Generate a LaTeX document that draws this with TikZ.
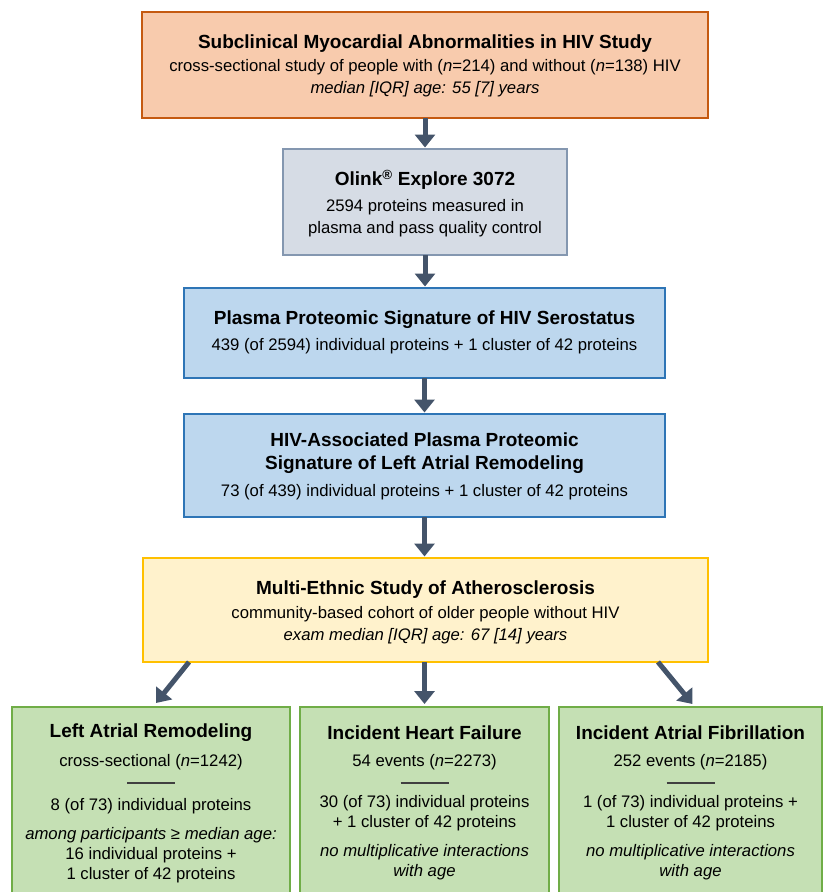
\documentclass[tikz,border=0pt]{standalone}
\usepackage{fontspec}
\setmainfont{Liberation Sans}
\usetikzlibrary{arrows.meta}
\definecolor{topfill}{HTML}{F8CBAD}
\definecolor{topdraw}{HTML}{C55A11}
\definecolor{olfill}{HTML}{D6DCE5}
\definecolor{oldraw}{HTML}{8497B0}
\definecolor{blfill}{HTML}{BDD7EE}
\definecolor{bldraw}{HTML}{2E75B6}
\definecolor{yefill}{HTML}{FFF2CC}
\definecolor{yedraw}{HTML}{FFC000}
\definecolor{grfill}{HTML}{C5E0B4}
\definecolor{grdraw}{HTML}{70AD47}
\definecolor{arrowc}{HTML}{44546A}
\definecolor{rulec}{HTML}{404040}
\begin{document}
\begin{tikzpicture}[x=1pt,y=-1pt,
  box/.style={draw, line width=1.2pt, inner sep=0pt, outer sep=0pt},
  txt/.style={align=center, inner sep=0pt, font=\fontsize{16.7}{22}\selectfont},
  ttl/.style={align=center, inner sep=0pt, font=\fontsize{19}{23}\selectfont\bfseries},
  flow/.style={draw=arrowc, line width=5pt, -{Triangle[width=20pt,length=13pt]}},
  sep/.style={draw=rulec, line width=1.6pt}]
\useasboundingbox (0,0) rectangle (824,892);
\clip (0,0) rectangle (824,892);

% boxes
\node[box, fill=topfill, draw=topdraw, minimum width=566pt, minimum height=106pt] (top) at (425,65) {};
\node[box, fill=olfill, draw=oldraw, minimum width=284pt, minimum height=106pt] (olink) at (425,202) {};
\node[box, fill=blfill, draw=bldraw, minimum width=481pt, minimum height=90pt] (plasma) at (424.5,333) {};
\node[box, fill=blfill, draw=bldraw, minimum width=481pt, minimum height=103pt] (hivla) at (424.5,465.5) {};
\node[box, fill=yefill, draw=yedraw, minimum width=565pt, minimum height=104pt] (mesa) at (425.5,610) {};
\node[box, fill=grfill, draw=grdraw, minimum width=278pt, minimum height=210pt] (lar) at (151,812) {};
\node[box, fill=grfill, draw=grdraw, minimum width=249pt, minimum height=210pt] (ihf) at (424.5,812) {};
\node[box, fill=grfill, draw=grdraw, minimum width=263pt, minimum height=210pt] (iaf) at (690.5,812) {};

% texts of the upper boxes
\node[ttl] (topT) at (425,44) {Subclinical Myocardial Abnormalities in HIV Study};
\node[txt] (topS) at (425,78) {cross-sectional study of people with (\textit{n}=214) and without (\textit{n}=138) HIV\\ \textit{median [IQR] age: 55 [7] years}};

\node[ttl] (olT) at (425,180) {Olink\textsuperscript{®} Explore 3072};
\node[txt] (olS) at (425,218) {2594 proteins measured in\\ plasma and pass quality control};

\node[ttl] (plT) at (424.5,320) {Plasma Proteomic Signature of HIV Serostatus};
\node[txt] (plS) at (424.5,346) {439 (of 2594) individual proteins + 1 cluster of 42 proteins};

\node[ttl] (hvT) at (424.5,453) {HIV-Associated Plasma Proteomic\\ Signature of Left Atrial Remodeling};
\node[txt] (hvS) at (424.5,492) {73 (of 439) individual proteins + 1 cluster of 42 proteins};

\node[ttl] (meT) at (425.5,590) {Multi-Ethnic Study of Atherosclerosis};
\node[txt] (meS) at (425.5,625) {community-based cohort of older people without HIV\\ \textit{exam median [IQR] age: 67 [14] years}};

% left bottom box
\node[ttl] (larT) at (151,733) {Left Atrial Remodeling};
\node[txt] (larS) at (151,762) {cross-sectional (\textit{n}=1242)};
\draw[sep] (127,783) -- (175,783);
\node[txt] (larA) at (151,806) {8 (of 73) individual proteins};
\node[txt, font=\fontsize{16.7}{20}\selectfont] (larB) at (151,855) {\textit{among participants ≥ median age:}\\ 16 individual proteins +\\ 1 cluster of 42 proteins};

% middle bottom box
\node[ttl] (ihfT) at (424.5,733) {Incident Heart Failure};
\node[txt] (ihfS) at (424.5,762) {54 events (\textit{n}=2273)};
\draw[sep] (400.5,783) -- (448.5,783);
\node[txt, font=\fontsize{16.7}{20}\selectfont] (ihfA) at (424.5,813) {30 (of 73) individual proteins\\ + 1 cluster of 42 proteins};
\node[txt, font=\fontsize{16.7}{20}\selectfont\itshape] (ihfB) at (424.5,862) {no multiplicative interactions\\ with age};

% right bottom box
\node[ttl] (iafT) at (690.5,733) {Incident Atrial Fibrillation};
\node[txt] (iafS) at (690.5,762) {252 events (\textit{n}=2185)};
\draw[sep] (666.5,783) -- (714.5,783);
\node[txt, font=\fontsize{16.7}{20}\selectfont] (iafA) at (690.5,813) {1 (of 73) individual proteins +\\ 1 cluster of 42 proteins};
\node[txt, font=\fontsize{16.7}{20}\selectfont\itshape] (iafB) at (690.5,862) {no multiplicative interactions\\ with age};

% connectors
\draw[flow, shorten >=1.5pt] (top.south) -- (top.south |- olink.north);
\draw[flow, shorten >=1.5pt] (olink.south) -- (olink.south |- plasma.north);
\draw[flow, shorten >=1.5pt] (plasma.south) -- (plasma.south |- hivla.north);
\draw[flow, shorten >=1.5pt] (hivla.south) -- (hivla.south |- mesa.north);
\coordinate (mL) at ([xshift=46pt]mesa.south west);
\coordinate (mR) at ([xshift=-50pt]mesa.south east);
\coordinate (tL) at ([xshift=5pt,yshift=4pt]lar.north);
\coordinate (tR) at ([xshift=2pt,yshift=3pt]iaf.north);
\draw[flow] (mL) -- (tL);
\draw[flow, shorten >=3pt] (ihf.north |- mesa.south) -- (ihf.north);
\draw[flow] (mR) -- (tR);
\end{tikzpicture}
\end{document}
